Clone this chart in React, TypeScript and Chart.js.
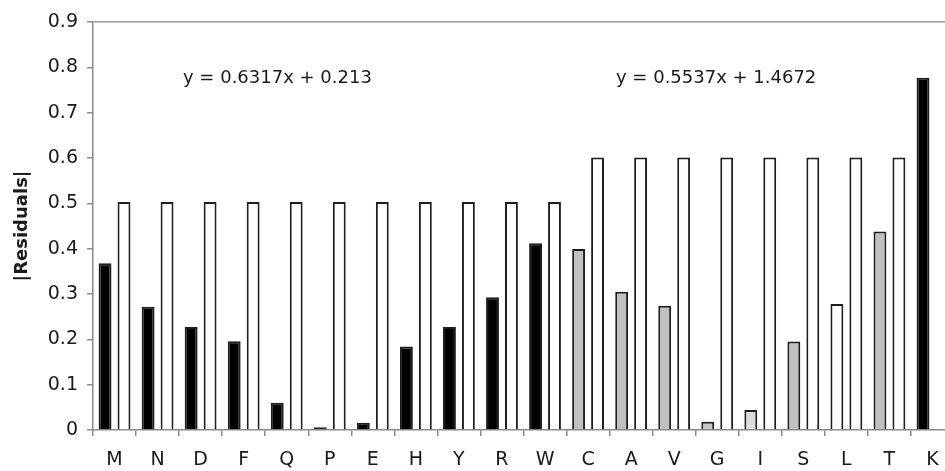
import React, { useEffect, useRef } from 'react';
import { Chart, registerables } from 'chart.js';

Chart.register(...registerables);

const categories = ['M', 'N', 'D', 'F', 'Q', 'P', 'E', 'H', 'Y', 'R', 'W', 'C', 'A', 'V', 'G', 'I', 'S', 'L', 'T', 'K'];
const residuals = [0.368, 0.272, 0.227, 0.196, 0.060, 0.006, 0.016, 0.184, 0.227, 0.293, 0.412, 0.399, 0.305, 0.274, 0.018, 0.044, 0.195, 0.278, 0.438, 0.777];
const referenceLevels = [0.503, 0.503, 0.503, 0.503, 0.503, 0.503, 0.503, 0.503, 0.503, 0.503, 0.503, 0.601, 0.601, 0.601, 0.601, 0.601, 0.601, 0.601, 0.601, null];
const residualColors = ['#000000', '#000000', '#000000', '#000000', '#000000', '#000000', '#000000', '#000000', '#000000', '#000000', '#000000', '#c0c0c0', '#c0c0c0', '#c0c0c0', '#c8c8c8', '#dcdcdc', '#c0c0c0', '#ffffff', '#c0c0c0', '#000000'];
const yTicks = [0, 0.1, 0.2, 0.3, 0.4, 0.5, 0.6, 0.7, 0.8, 0.9];
const equationTexts = ['y = 0.6317x + 0.213', 'y = 0.5537x + 1.4672'];
const yTitle = '|Residuals|';

export default function App() {
  const ref = useRef<HTMLCanvasElement>(null);

  useEffect(() => {
    const canvas = ref.current;
    if (!canvas) return;
    const equationPos = [
      { x: 183, y: 83 },
      { x: 616, y: 83 },
    ];
    const eqPlugin = {
      id: 'equations',
      afterDatasetsDraw(chart: any) {
        const ctx = chart.ctx;
        ctx.save();
        ctx.font = '18px "DejaVu Sans"';
        ctx.fillStyle = '#1a1a1a';
        ctx.textAlign = 'left';
        ctx.textBaseline = 'alphabetic';
        equationTexts.forEach((t, i) => ctx.fillText(t, equationPos[i].x, equationPos[i].y));
        ctx.restore();
      },
    };
    const axisGray = '#8a8a8a';
    const chart = new Chart(canvas, {
      type: 'bar',
      data: {
        labels: categories,
        datasets: [
          {
            label: 'residual',
            data: residuals,
            backgroundColor: residualColors,
            borderColor: '#1e1e1e',
            borderWidth: 2,
            borderSkipped: 'bottom',
          },
          {
            label: 'reference',
            data: referenceLevels,
            backgroundColor: '#ffffff',
            borderColor: '#1e1e1e',
            borderWidth: 2,
            borderSkipped: 'bottom',
          },
        ],
      },
      options: {
        responsive: false,
        animation: false,
        devicePixelRatio: 1,
        categoryPercentage: 0.88,
        barPercentage: 0.68,
        layout: { padding: { left: 0, top: 22, right: 6, bottom: 0 } },
        plugins: {
          legend: { display: false },
          tooltip: { enabled: false },
        },
        scales: {
          x: {
            offset: true,
            grid: {
              offset: true,
              drawOnChartArea: false,
              drawTicks: true,
              tickLength: 6,
              tickColor: axisGray,
              lineWidth: 1.5,
            },
            border: { display: true, color: axisGray, width: 1.5 },
            ticks: {
              color: '#1a1a1a',
              font: { family: '"DejaVu Sans"', size: 19 },
              padding: 13,
              maxRotation: 0,
              autoSkip: false,
            },
            afterFit(scale: any) {
              scale.height = 41;
            },
          },
          y: {
            min: 0,
            max: 0.9,
            afterBuildTicks(scale: any) {
              scale.ticks = yTicks.map((v) => ({ value: v }));
            },
            grid: {
              drawOnChartArea: true,
              color: (c: any) => (c.tick && Math.abs(c.tick.value - 0.9) < 1e-6 ? '#9a9a9a' : 'rgba(0,0,0,0)'),
              tickColor: axisGray,
              tickLength: 6,
              lineWidth: 1.5,
            },
            border: { display: true, color: axisGray, width: 1.5 },
            ticks: {
              color: '#1a1a1a',
              font: { family: '"DejaVu Sans"', size: 19 },
              padding: 9,
              callback: (v: any) => (Number(v) === 0 ? '0' : Number(v).toFixed(1)),
            },
            title: {
              display: true,
              text: yTitle,
              color: '#1a1a1a',
              font: { family: '"DejaVu Sans"', size: 18, weight: 'bold' },
              padding: { top: 12, bottom: 0 },
            },
            afterFit(scale: any) {
              scale.width = 93;
            },
          },
        },
      },
      plugins: [eqPlugin],
    });
    return () => chart.destroy();
  }, []);

  return (
    <div
      style={{
        position: 'fixed',
        left: 0,
        top: 0,
        width: 945,
        height: 471,
        overflow: 'hidden',
        background: '#ffffff',
      }}
    >
      <canvas ref={ref} width={960} height={471} style={{ display: 'block' }} />
    </div>
  );
}
